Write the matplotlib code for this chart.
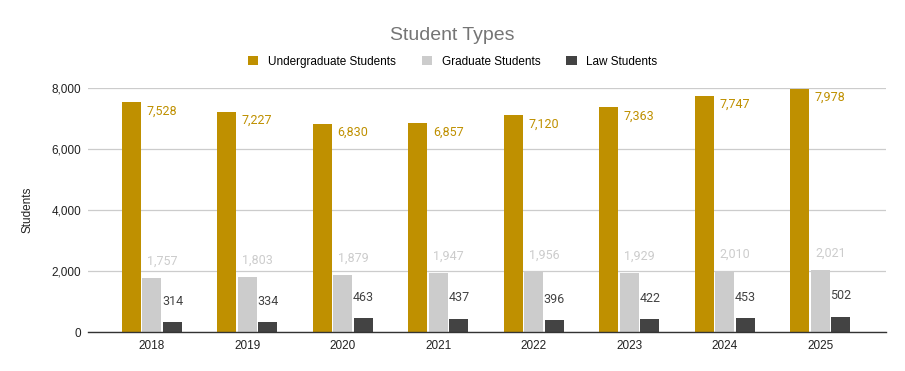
import numpy as np
import matplotlib.pyplot as plt

# Data
years = ['2018', '2019', '2020', '2021', '2022', '2023', '2024', '2025']
undergrad = [7528, 7227, 6830, 6857, 7120, 7363, 7747, 7978]
graduate = [1757, 1803, 1879, 1947, 1956, 1929, 2010, 2021]
law = [314, 334, 463, 437, 396, 422, 453, 502]

c_ug = '#bf9000'
c_gr = '#cccccc'
c_law = '#434343'

fig = plt.figure(figsize=(9.05, 3.71), dpi=100)
ax = fig.add_axes([0.0972, 0.105, 0.882, 0.658])

x = np.arange(len(years))
w = 0.2
off = 0.215
ax.bar(x - off, undergrad, w, color=c_ug, label='Undergraduate Students', zorder=3)
ax.bar(x, graduate, w, color=c_gr, label='Graduate Students', zorder=3)
ax.bar(x + off, law, w, color=c_law, label='Law Students', zorder=3)

# Data labels
for xi, v in zip(x, undergrad):
    ax.annotate(f'{v:,}', (xi - off + w / 2, v), xytext=(4, -6.5), textcoords='offset points',
                ha='left', va='center', color=c_ug, fontsize=9, family='Roboto', zorder=5)
for xi, v in zip(x, graduate):
    ax.annotate(f'{v:,}', (xi, v), xytext=(7.5, 12), textcoords='offset points',
                ha='center', va='center', color=c_gr, fontsize=9, family='Roboto', zorder=5)
for xi, v in zip(x, law):
    ax.annotate(f'{v:,}', (xi + off, v), xytext=(0, 15), textcoords='offset points',
                ha='center', va='center', color=c_law, fontsize=9, family='Roboto', zorder=5)

ax.set_xlim(-0.67, 7.69)
ax.set_ylim(0, 8000)
ax.set_yticks([0, 2000, 4000, 6000, 8000])
ax.set_yticklabels([f'{t:,}' for t in [0, 2000, 4000, 6000, 8000]])
ax.set_xticks(x)
ax.set_xticklabels(years)
ax.tick_params(axis='both', length=0, labelsize=8.5, labelcolor='#222222', pad=6)
ax.tick_params(axis='y', pad=5)
for lab in ax.get_xticklabels() + ax.get_yticklabels():
    lab.set_family('Liberation Sans')

ax.grid(axis='y', color='#cccccc', linewidth=0.9, zorder=0)
for s in ['top', 'right', 'left']:
    ax.spines[s].set_visible(False)
ax.spines['bottom'].set_color('#333333')
ax.spines['bottom'].set_linewidth(1)
ax.spines['bottom'].set_zorder(4)

ax.set_ylabel('Students', fontsize=8.5, color='#222222', family='Liberation Sans', labelpad=13)

fig.text(0.5, 0.905, 'Student Types', ha='center', va='center', fontsize=14,
         color='#757575', family='Liberation Sans')
fig.legend(loc='center', bbox_to_anchor=(0.5, 0.834), ncol=3, frameon=False,
           prop={'family': 'Liberation Sans', 'size': 8.5}, handlelength=0.9, handleheight=0.9,
           columnspacing=2.2, handletextpad=0.8)

fig.savefig('out.png', dpi=100)
